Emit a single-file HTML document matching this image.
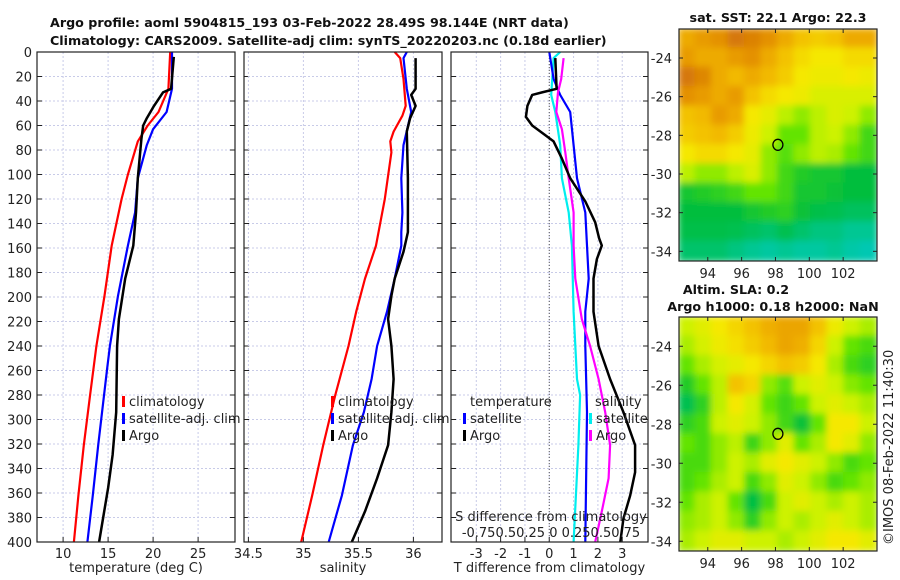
<!DOCTYPE html>
<html><head><meta charset="utf-8"><style>
body{margin:0;background:#fff;}
svg{display:block;font-family:"DejaVu Sans","Liberation Sans",sans-serif;}
.t{font-size:13px;fill:#222;}
.b{font-size:12.7px;font-weight:bold;fill:#111;}
</style></head><body>
<svg id="c" width="900" height="580" viewBox="0 0 900 580" xmlns="http://www.w3.org/2000/svg">
<defs>
<clipPath id="m1c"><rect x="679" y="29" width="198" height="232"/></clipPath>
<clipPath id="m2c"><rect x="679" y="317" width="198" height="234"/></clipPath>
<filter id="bl" x="-5%" y="-5%" width="110%" height="110%"><feGaussianBlur stdDeviation="3.5"/></filter>
</defs>
<text class="b" x="50" y="27">Argo profile: aoml 5904815_193 03-Feb-2022 28.49S 98.144E (NRT data)</text>
<text class="b" x="50" y="45">Climatology: CARS2009. Satellite-adj clim: synTS_20220203.nc (0.18d earlier)</text>
<text class="b" x="778" y="22" text-anchor="middle">sat. SST: 22.1 Argo: 22.3</text>
<text class="b" x="736" y="294" text-anchor="middle">Altim. SLA: 0.2</text>
<text class="b" x="773" y="311" text-anchor="middle">Argo h1000: 0.18 h2000: NaN</text>
<text class="t" transform="translate(893,545) rotate(-90)">©IMOS 08-Feb-2022 11:40:30</text>
<g id="root"></g>
</svg>
<script>
const tClimDepth = [0,30,49,60,73,100,120,158,199,240,280,321,362,400];
const tClim  = [21.9,21.7,20.6,19.4,18.3,17.2,16.5,15.4,14.6,13.7,13.0,12.3,11.7,11.2];
const tSatDepth = [0,30,49,63,76,103,131,158,199,240,258,321,362,400];
const tSat   = [22.1,22.1,21.5,20.0,19.3,18.3,18.0,17.2,16.1,15.2,14.9,13.9,13.3,12.7];
const tArgoDepth = [4,30,33,44,54,60,71,103,131,158,185,218,240,294,329,356,378,400];
const tArgo  = [22.3,22.0,21.1,20.1,19.3,18.9,18.7,18.3,18.1,17.8,16.9,16.2,16.0,15.9,15.5,15.0,14.5,14.0];
const sClimDepth = [0,5,22,44,52,65,73,82,120,158,185,212,240,280,321,362,400];
const sClim  = [35.83,35.88,35.91,35.93,35.90,35.82,35.79,35.80,35.74,35.66,35.56,35.48,35.41,35.29,35.18,35.08,34.98];
const sSatDepth = [0,5,30,49,76,103,131,147,158,185,212,240,267,294,321,362,400];
const sSat   = [35.94,35.91,35.94,35.98,35.91,35.89,35.90,35.89,35.89,35.83,35.76,35.67,35.62,35.55,35.45,35.35,35.23];
const sArgoDepth = [5,30,35,44,54,65,103,147,163,185,199,218,240,267,294,321,348,375,400];
const sArgo  = [36.02,36.02,35.98,36.02,35.97,35.94,35.95,35.95,35.91,35.83,35.80,35.77,35.80,35.82,35.80,35.77,35.67,35.56,35.44];
const dTArgoDepth = [5,30,33,35,44,53,60,68,73,87,103,122,139,152,158,169,185,212,240,267,294,321,343,362,381,400];
const dTArgo = [0.25,0.3,-0.3,-0.7,-0.9,-0.96,-0.7,-0.16,0.18,0.52,0.86,1.48,1.89,2.05,2.16,1.96,1.82,1.82,2.03,2.5,3.05,3.53,3.53,3.33,3.05,2.92];
const dTSatDepth = [0,22,35,49,76,103,131,158,185,212,240,294,400];
const dTSat  = [0,0.18,0.45,0.86,1.0,1.14,1.48,1.55,1.62,1.48,1.48,1.55,1.48];
const dSSatDepth = [0,5,35,49,76,103,131,158,212,267,280,321,400];
const dSSat  = [0.45,0.18,0.08,0.25,0.45,0.52,0.8,0.93,1.0,1.14,1.27,1.2,1.0];
const dSArgoDepth = [5,22,33,49,63,82,103,131,158,185,218,240,267,294,321,348,375,400];
const dSArgo = [0.59,0.49,0.36,0.29,0.52,0.66,0.8,1.0,1.0,1.07,1.34,1.68,2.03,2.3,2.5,2.44,2.16,1.89];
const depthTicks = [0,20,40,60,80,100,120,140,160,180,200,220,240,260,280,300,320,340,360,380,400];
const tTicks = [10,15,20,25];
const sTicks = [34.5,35,35.5,36];
const sTickLabels = ["34.5","35","35.5","36"];
const dTicks = [-3,-2,-1,0,1,2,3];
const lonTicks = [94,96,98,100,102];
const latTicks = [-24,-26,-28,-30,-32,-34];
const sstGrid = [
[0.85,0.88,0.9,0.95,0.93,0.9,0.85,0.8,0.78,0.8,0.85,0.85],
[0.88,0.85,0.85,0.88,0.9,0.85,0.8,0.75,0.72,0.72,0.75,0.75],
[0.95,0.92,0.85,0.82,0.85,0.82,0.78,0.72,0.7,0.7,0.72,0.7],
[0.9,0.88,0.85,0.88,0.8,0.75,0.72,0.7,0.65,0.65,0.65,0.65],
[0.8,0.82,0.88,0.85,0.72,0.68,0.6,0.55,0.6,0.65,0.62,0.55],
[0.78,0.8,0.82,0.78,0.7,0.62,0.5,0.5,0.6,0.62,0.55,0.45],
[0.72,0.75,0.75,0.72,0.68,0.55,0.48,0.55,0.6,0.58,0.5,0.45],
[0.6,0.55,0.55,0.6,0.65,0.55,0.45,0.4,0.38,0.38,0.35,0.35],
[0.38,0.4,0.42,0.45,0.5,0.5,0.45,0.38,0.38,0.36,0.35,0.35],
[0.35,0.35,0.35,0.35,0.38,0.4,0.42,0.36,0.33,0.32,0.3,0.3],
[0.33,0.33,0.33,0.32,0.3,0.28,0.32,0.28,0.25,0.25,0.22,0.22],
[0.28,0.28,0.28,0.25,0.22,0.2,0.22,0.2,0.2,0.22,0.18,0.15]];
const slaGrid = [
[0.62,0.67,0.72,0.76,0.8,0.84,0.86,0.86,0.8,0.7,0.62,0.58],
[0.58,0.64,0.7,0.74,0.78,0.82,0.86,0.84,0.76,0.62,0.5,0.46],
[0.5,0.58,0.64,0.68,0.72,0.76,0.8,0.78,0.72,0.58,0.46,0.42],
[0.4,0.5,0.6,0.8,0.76,0.55,0.48,0.62,0.67,0.62,0.54,0.5],
[0.32,0.42,0.6,0.72,0.64,0.5,0.44,0.5,0.62,0.67,0.62,0.58],
[0.42,0.46,0.62,0.67,0.62,0.55,0.45,0.36,0.5,0.72,0.72,0.62],
[0.5,0.46,0.55,0.6,0.44,0.55,0.67,0.5,0.58,0.72,0.67,0.55],
[0.46,0.46,0.55,0.62,0.58,0.67,0.72,0.67,0.62,0.55,0.46,0.5],
[0.46,0.5,0.58,0.62,0.46,0.55,0.67,0.62,0.55,0.46,0.5,0.55],
[0.5,0.58,0.62,0.5,0.34,0.46,0.62,0.67,0.62,0.58,0.62,0.58],
[0.55,0.58,0.62,0.55,0.42,0.55,0.62,0.58,0.62,0.67,0.62,0.58],
[0.58,0.62,0.67,0.67,0.62,0.62,0.58,0.62,0.67,0.72,0.72,0.67]];
const argoLon = 98.144, argoLat = -28.49;

const NS="http://www.w3.org/2000/svg";
const root=document.getElementById('root');
function mk(tag,attrs,parent){const e=document.createElementNS(NS,tag);for(const k in attrs)e.setAttribute(k,attrs[k]);(parent||root).appendChild(e);return e;}
const Y0=52,Y1=542;
function yD(d){return Y0+(d/400)*(Y1-Y0);}
function lin(d0,d1,r0,r1){return v=>r0+(v-d0)/(d1-d0)*(r1-r0);}
const panels=[
 {x0:37,x1:235,sc:lin(7.1,29.1,37,235),ticks:tTicks,labels:tTicks.map(String),xl:"temperature (deg C)",name:"temperature"},
 {x0:244,x1:442,sc:lin(34.46,36.26,244,442),ticks:sTicks,labels:sTickLabels,xl:"salinity",name:"salinity"},
 {x0:451,x1:648,sc:lin(-4.04,4.06,451,648),ticks:dTicks,labels:dTicks.map(String),xl:"T difference from climatology",name:"difference"}];
panels.forEach((p,i)=>{
 const g=mk('g',{});
 
 
 mk('rect',{x:p.x0,y:Y0,width:p.x1-p.x0,height:Y1-Y0,fill:'#fff'},g);
 depthTicks.forEach(d=>{
  mk('line',{x1:p.x0,x2:p.x1,y1:yD(d),y2:yD(d),stroke:'#c8cbe8','stroke-width':1,'stroke-dasharray':'2,2'},g);
  mk('line',{x1:p.x0,x2:p.x0+5,y1:yD(d),y2:yD(d),stroke:'#222'},g);
  mk('line',{x1:p.x1-5,x2:p.x1,y1:yD(d),y2:yD(d),stroke:'#222'},g);
  if(i===0){const t=mk('text',{x:p.x0-5,y:yD(d)+5,'text-anchor':'end',class:'t'},g);t.textContent=d;
   
   }
 });
 p.ticks.forEach((v,k)=>{
  const x=p.sc(v);
  mk('line',{x1:x,x2:x,y1:Y0,y2:Y1,stroke:'#c8cbe8','stroke-width':1,'stroke-dasharray':'2,2'},g);
  mk('line',{x1:x,x2:x,y1:Y1-5,y2:Y1,stroke:'#222'},g);
  const t=mk('text',{x:x,y:Y1+16,'text-anchor':'middle',class:'t'},g);t.textContent=p.labels[k];
  
  
 });
 const xl=mk('text',{x:(p.x0+p.x1)/2,y:572,'text-anchor':'middle',class:'t'},g);xl.textContent=p.xl;
 
 
 p.g=g;
});
function line(p,depths,vals,color,w,name){
 const pts=depths.map((d,k)=>p.sc(vals[k]).toFixed(1)+','+yD(d).toFixed(1)).join(' ');
 const e=mk('polyline',{points:pts,fill:'none',stroke:color,'stroke-width':w,'stroke-linejoin':'round'},p.g);
 
 
}
const [P1,P2,P3]=panels;
mk('line',{x1:P3.sc(0),x2:P3.sc(0),y1:Y0,y2:Y1,stroke:'#555','stroke-dasharray':'1,2'},P3.g);
line(P1,tClimDepth,tClim,'#f00',2.2,'temp-climatology-line');
line(P1,tSatDepth,tSat,'#00f',2.2,'temp-satellite-line');
line(P1,tArgoDepth,tArgo,'#000',2.5,'temp-argo-line');
line(P2,sClimDepth,sClim,'#f00',2.2,'sal-climatology-line');
line(P2,sSatDepth,sSat,'#00f',2.2,'sal-satellite-line');
line(P2,sArgoDepth,sArgo,'#000',2.5,'sal-argo-line');
line(P3,dSSatDepth,dSSat,'#0ee',2.2,'sdiff-satellite-line');
line(P3,dTSatDepth,dTSat,'#00f',2.2,'tdiff-satellite-line');
line(P3,dSArgoDepth,dSArgo,'#f0f',2.2,'sdiff-argo-line');
line(P3,dTArgoDepth,dTArgo,'#000',2.5,'tdiff-argo-line');
panels.forEach(p=>mk('rect',{x:p.x0,y:Y0,width:p.x1-p.x0,height:Y1-Y0,fill:'none',stroke:'#222','stroke-width':1.2},p.g));
function legend(g,x,y,items){items.forEach((it,k)=>{
 const yy=y+k*17;
 mk('rect',{x:x,y:yy-9,width:3,height:11,fill:it[1]},g);
 const t=mk('text',{x:x+7,y:yy+1,class:'t'},g);t.textContent=it[0];
 
 
});}
legend(P1.g,122,405,[["climatology","#f00"],["satellite-adj. clim","#00f"],["Argo","#000"]]);
legend(P2.g,331,405,[["climatology","#f00"],["satellite-adj. clim","#00f"],["Argo","#000"]]);
const lt=mk('text',{x:470,y:406,class:'t'},P3.g);lt.textContent='temperature';


const ls=mk('text',{x:595,y:406,class:'t'},P3.g);ls.textContent='salinity';


legend(P3.g,463,422,[["satellite","#00f"],["Argo","#000"]]);
legend(P3.g,589,422,[["satellite","#0ee"],["Argo","#f0f"]]);
const sd=mk('text',{x:551,y:521,'text-anchor':'middle',class:'t'},P3.g);sd.textContent='S difference from climatology';


const sl=mk('text',{x:551,y:537,'text-anchor':'middle',class:'t'},P3.g);sl.textContent='-0.750.50.25 0 0.250.50.75';



const stops=[[0,[0,200,230]],[0.2,[0,200,160]],[0.35,[0,190,60]],[0.5,[100,228,0]],[0.62,[205,242,0]],[0.72,[245,232,0]],[0.82,[242,185,0]],[0.9,[228,145,0]],[1,[200,95,20]]];
function cmap(v){for(let i=1;i<stops.length;i++){if(v<=stops[i][0]){const a=stops[i-1],b=stops[i],f=(v-a[0])/(b[0]-a[0]);return 'rgb('+a[1].map((c,j)=>Math.round(c+f*(b[1][j]-c))).join(',')+')';}}return 'rgb(200,95,20)';}
function map(grid,top,bot,clip,name){
 const g=mk('g',{});
 
 
 const xs=lin(92.3,104.0,679,877), ys=lin(-22.5,-34.5,top,bot);
 const hm=mk('g',{'clip-path':'url(#'+clip+')'},g);
 const hb=mk('g',{filter:'url(#bl)'},hm);
 const nr=grid.length,nc=grid[0].length;
 grid.forEach((row,r)=>row.forEach((v,c)=>{
  const lon0=92.3+c*(11.7/nc),lat0=-22.5-r*(12/nr);
  const x=xs(lon0),y=ys(lat0);
  const cell=mk('rect',{x:x-1,y:y-1,width:xs(lon0+11.7/nc)-x+2,height:ys(lat0-12/nr)-y+2,fill:cmap(v)},hb);
  
  
 }));
 mk('rect',{x:679,y:top,width:198,height:bot-top,fill:'none',stroke:'#222','stroke-width':1.2},g);
 lonTicks.forEach(v=>{const x=xs(v);mk('line',{x1:x,x2:x,y1:bot-4,y2:bot,stroke:'#222'},g);mk('line',{x1:x,x2:x,y1:top,y2:top+4,stroke:'#222'},g);
  const t=mk('text',{x:x,y:bot+17,'text-anchor':'middle',class:'t'},g);t.textContent=v;
  
  });
 latTicks.forEach(v=>{const y=ys(v);mk('line',{x1:679,x2:683,y1:y,y2:y,stroke:'#222'},g);mk('line',{x1:873,x2:877,y1:y,y2:y,stroke:'#222'},g);
  const t=mk('text',{x:672,y:y+5,'text-anchor':'end',class:'t'},g);t.textContent=v;
  
  });
 const m=mk('ellipse',{cx:xs(argoLon),cy:ys(argoLat),rx:5,ry:5.5,fill:'none',stroke:'#000','stroke-width':1.3},g);
 
 
}
map(sstGrid,29,261,'m1c','sst-map');
map(slaGrid,317,551,'m2c','sla-map');
</script>
</body></html>
